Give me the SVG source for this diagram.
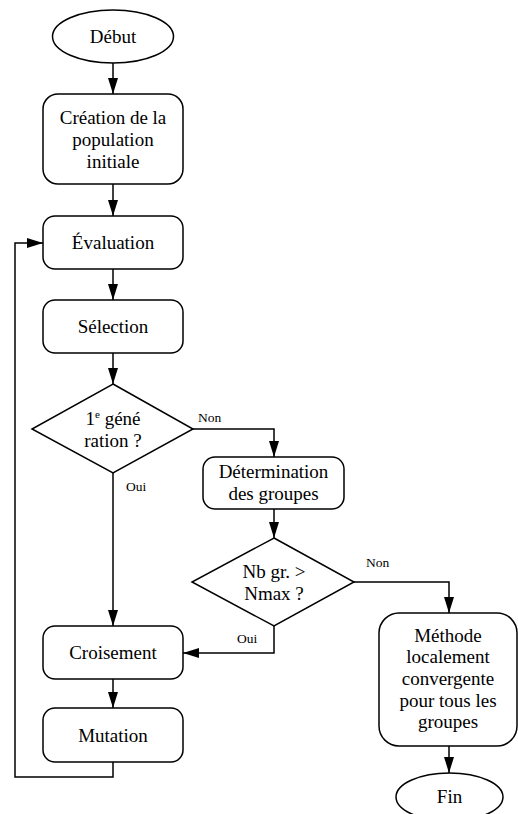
<svg xmlns="http://www.w3.org/2000/svg" width="518" height="814" viewBox="0 0 518 814">
<defs>
<marker id="ah" markerWidth="16" markerHeight="10" refX="16" refY="5" orient="auto" markerUnits="userSpaceOnUse">
<path d="M0,0 L16,5 L0,10 Z" fill="#000"/>
</marker>
<style>
.n{fill:#fff;stroke:#000;stroke-width:1.5}
.t{font-family:"Liberation Serif","Times New Roman",serif;font-size:19px;fill:#000;text-anchor:middle}
.l{font-family:"Liberation Serif","Times New Roman",serif;font-size:13.5px;fill:#000}
.c{fill:none;stroke:#000;stroke-width:1.5}
</style>
</defs>
<rect width="518" height="814" fill="#fff"/>
<g id="connectors">
<path class="c" d="M113,63 V94" marker-end="url(#ah)"/>
<path class="c" d="M113,184 V216" marker-end="url(#ah)"/>
<path class="c" d="M113,269 V300" marker-end="url(#ah)"/>
<path class="c" d="M113,353 V384" marker-end="url(#ah)"/>
<path class="c" d="M193,429 H274 V457" marker-end="url(#ah)"/>
<path class="c" d="M113,473 V626" marker-end="url(#ah)"/>
<path class="c" d="M274,509 V538" marker-end="url(#ah)"/>
<path class="c" d="M354,582 H449 V613" marker-end="url(#ah)"/>
<path class="c" d="M274,626 V653 H183" marker-end="url(#ah)"/>
<path class="c" d="M113,679 V708" marker-end="url(#ah)"/>
<path class="c" d="M449,746 V773" marker-end="url(#ah)"/>
<path class="c" d="M113,762 V777 H15 V243 H43" marker-end="url(#ah)"/>
<text class="l" x="198" y="422">Non</text>
<text class="l" x="126" y="491">Oui</text>
<text class="l" x="366" y="567">Non</text>
<text class="l" x="237" y="643">Oui</text>
</g>
<g id="debut">
<ellipse class="n" cx="113" cy="36.5" rx="60.5" ry="26.5"/>
<text class="t" x="113" y="43">Début</text>
</g>
<g id="creation">
<rect class="n" x="43" y="94" width="140" height="90" rx="15"/>
<text class="t" x="113" y="124">Création de la</text>
<text class="t" x="113" y="146">population</text>
<text class="t" x="113" y="168">initiale</text>
</g>
<g id="evaluation">
<rect class="n" x="43" y="216" width="140" height="53" rx="12"/>
<text class="t" x="113" y="249">Évaluation</text>
</g>
<g id="selection">
<rect class="n" x="43" y="300" width="140" height="53" rx="12"/>
<text class="t" x="113" y="333">Sélection</text>
</g>
<g id="generation">
<path class="n" d="M113,384 L193,429 L113,473 L32,429 Z"/>
<text class="t" x="113" y="425">1<tspan font-size="11" dy="-7">e</tspan><tspan dy="7"> géné</tspan></text>
<text class="t" x="113" y="447">ration ?</text>
</g>
<g id="determination">
<rect class="n" x="203" y="457" width="141" height="52" rx="12"/>
<text class="t" x="273.5" y="478">Détermination</text>
<text class="t" x="273.5" y="500">des groupes</text>
</g>
<g id="nbgr">
<path class="n" d="M274,538 L354,582 L274,626 L192,582 Z"/>
<text class="t" x="274" y="578">Nb gr. &gt;</text>
<text class="t" x="274" y="600">Nmax ?</text>
</g>
<g id="croisement">
<rect class="n" x="43" y="626" width="140" height="53" rx="12"/>
<text class="t" x="113" y="659">Croisement</text>
</g>
<g id="mutation">
<rect class="n" x="43" y="708" width="140" height="54" rx="12"/>
<text class="t" x="113" y="742">Mutation</text>
</g>
<g id="methode">
<rect class="n" x="379" y="613" width="138" height="133" rx="20"/>
<text class="t" x="448" y="642">Méthode</text>
<text class="t" x="448" y="663">localement</text>
<text class="t" x="448" y="685">convergente</text>
<text class="t" x="448" y="707">pour tous les</text>
<text class="t" x="448" y="728">groupes</text>
</g>
<g id="fin">
<ellipse class="n" cx="449.5" cy="797" rx="53.5" ry="24"/>
<text class="t" x="449.5" y="803">Fin</text>
</g>
</svg>
